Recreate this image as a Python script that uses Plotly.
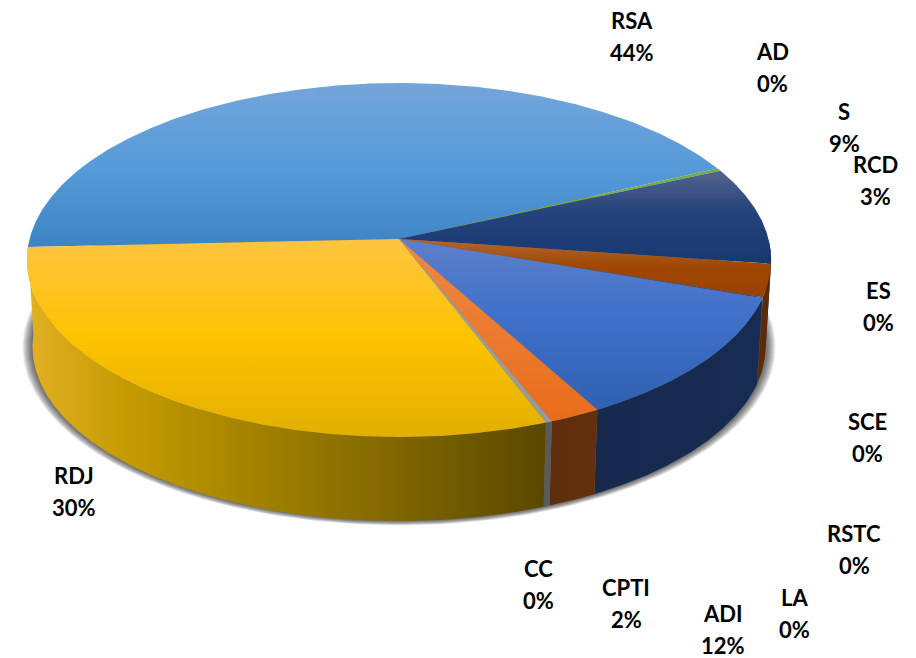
import numpy as np
import plotly.graph_objects as go

labels = ["RSA", "AD", "S", "RCD", "ES", "SCE", "RSTC", "LA", "ADI", "CPTI", "CC", "RDJ"]
values = [44.0, 0.25, 9.0, 3.0, 0.0, 0.0, 0.0, 0.08, 11.8, 2.0, 0.25, 30.2]
shown = ["44%", "0%", "9%", "3%", "0%", "0%", "0%", "0%", "12%", "2%", "0%", "30%"]

label_x = [632, 772, 844, 875, 878, 867, 854, 794, 723, 626, 538, 74]
label_y = [36, 67, 127, 180, 306, 437, 549, 613, 629, 603, 584, 491]

top_colors = {
    "RSA": [(0, "#74A5DA"), (0.5, "#579BD9"), (1, "#3E84C5")],
    "AD": [(0, "#70AD47"), (1, "#70AD47")],
    "S": [(0, "#55648C"), (0.45, "#24427C"), (1, "#183870")],
    "RCD": [(0, "#B4652F"), (0.5, "#9E4600"), (1, "#994200")],
    "LA": [(0, "#25507F"), (1, "#25507F")],
    "ADI": [(0, "#5F80C8"), (0.4, "#4272CB"), (1, "#2F60B2")],
    "CPTI": [(0, "#ED8A45"), (1, "#E96C1B")],
    "CC": [(0, "#A0A0A0"), (1, "#999999")],
    "RDJ": [(0, "#FDC440"), (0.5, "#FDC300"), (1, "#E2AF00")],
}
wall_colors = {
    "S": [(0, "#16294D"), (1, "#16294D")],
    "RCD": [(0, "#5E2A05"), (1, "#5E2A05")],
    "LA": [(0, "#16294D"), (1, "#16294D")],
    "ADI": [(0, "#16294D"), (1, "#172C52")],
    "CPTI": [(0, "#5E2D0B"), (1, "#62300C")],
    "CC": [(0, "#585A5C"), (1, "#585A5C")],
    "RDJ": [(0, "#E2B025"), (0.2, "#C39A00"), (0.62, "#8B7000"), (1, "#5A4800")],
}

START_DEG = 267.4
CX, CY, RX, RY, PERSP = 399.0, 239.0, 369.5, 174.5, 0.1186
WALL_T, VP_Y = 0.015, 6037.0


def project(theta_deg):
    t = np.radians(theta_deg)
    u, v = np.sin(t), np.cos(t)
    w = 1 + PERSP * v
    return CX + RX * u / w, CY - RY * v / w


def lower(x, y):
    return x + WALL_T * (CX - x), y + WALL_T * (VP_Y - y)


def arc(a, b):
    return np.linspace(a, b, max(3, int(abs(b - a) * 3)))


total = sum(values)
edges = START_DEG + np.cumsum([0.0] + values) / total * 360.0

fig = go.Figure()

# soft shadow under the pie: stacked faint rings, lighter toward the outside
ring = np.linspace(0, 360, 361)
sx, sy = lower(*project(ring))
for d in np.arange(10, 0, -1.0):
    fig.add_trace(go.Scatter(
        x=CX + (sx - CX) * (1 + d / 366.0),
        y=CY + 84 + (sy - CY - 84) * (1 + d * 0.4 / 180.0),
        mode="lines", line=dict(width=0), fill="toself",
        fillcolor="rgba(30,30,30,0.09)", hoverinfo="skip", showlegend=False,
    ))

# side walls
for name, a, b in zip(labels, edges[:-1], edges[1:]):
    a360, b360 = a % 360, (a % 360) + (b - a)
    lo, hi = max(a360, 90.0), min(b360, 270.0)
    if name not in wall_colors or hi <= lo:
        continue
    th = arc(lo, hi)
    tx, ty = project(th)
    bx, by = lower(tx, ty)
    fig.add_trace(go.Scatter(
        x=np.r_[tx, bx[::-1], tx[0]], y=np.r_[ty, by[::-1], ty[0]],
        mode="lines", line=dict(width=0), fill="toself",
        fillgradient=dict(type="horizontal", colorscale=wall_colors[name],
                          start=float(min(tx.min(), bx.min())), stop=float(max(tx.max(), bx.max()))),
        hoverinfo="skip", showlegend=False,
    ))

# top faces
for name, a, b in zip(labels, edges[:-1], edges[1:]):
    if name not in top_colors or b <= a:
        continue
    tx, ty = project(arc(a, b))
    px = np.r_[CX, tx, CX]
    py = np.r_[CY, ty, CY]
    fig.add_trace(go.Scatter(
        x=px, y=py, mode="lines", line=dict(width=0), fill="toself",
        fillgradient=dict(type="vertical", colorscale=top_colors[name],
                          start=float(py.min()), stop=float(py.max())),
        name=name, hoverinfo="skip", showlegend=False,
    ))

for name, txt, x, y in zip(labels, shown, label_x, label_y):
    for s, dy in ((name, -16), (txt, 16)):
        fig.add_annotation(x=x, y=y + dy, text=s, showarrow=False,
                           font=dict(family="Lato", size=22, color="#000000", weight="bold"))

fig.update_layout(
    width=916, height=658, margin=dict(l=0, r=0, t=0, b=0),
    paper_bgcolor="white", plot_bgcolor="white",
    xaxis=dict(range=[0, 916], visible=False),
    yaxis=dict(range=[658, 0], visible=False),
)
fig.write_html("out.html", post_script="document.body.style.margin='0';",
               config={"displayModeBar": False})
